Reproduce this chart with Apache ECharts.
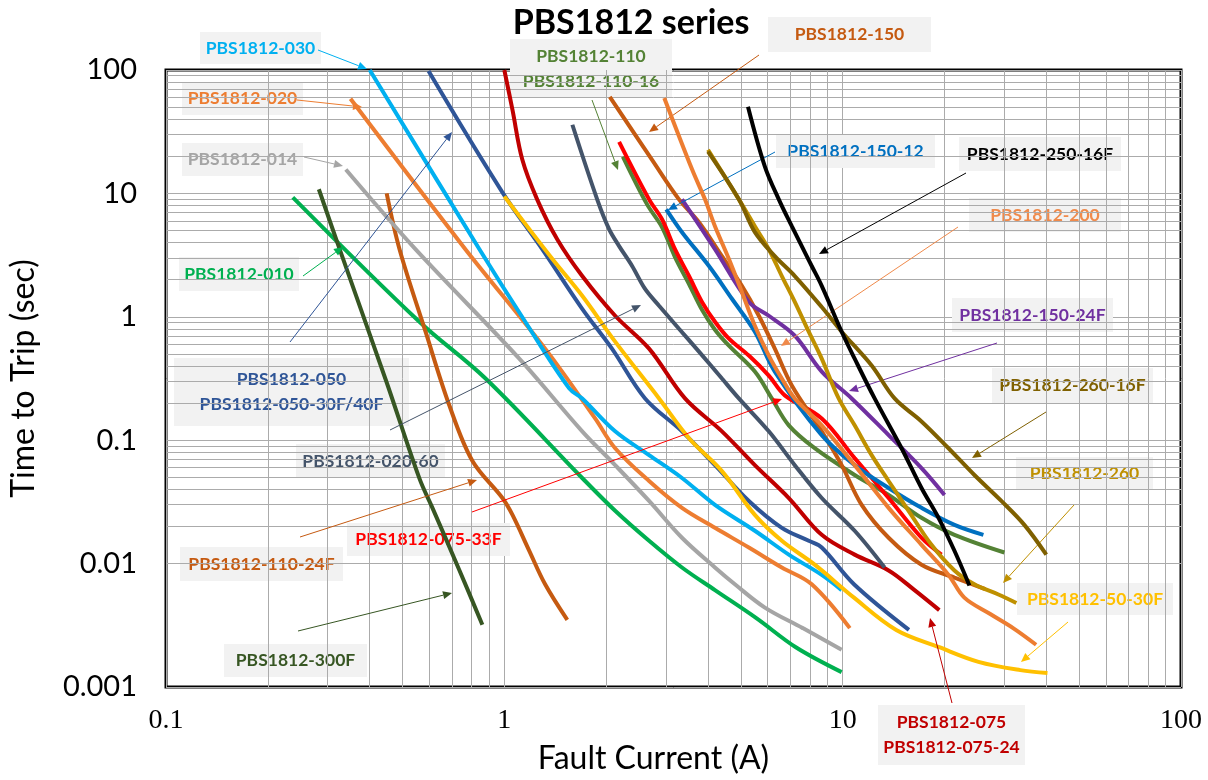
<!DOCTYPE html>
<html>
<head>
<meta charset="utf-8">
<script src="https://cdn.jsdelivr.net/npm/echarts@6/dist/echarts.min.js"></script>
<style>
html, body { margin: 0; padding: 0; background: #fff; }
#chart { width: 1208px; height: 780px; }
</style>
</head>
<body>
<div id="chart"></div>
<script>
// trip curves: [fault current A, time s]
var d010   = [[0.237,9.3],[0.561,0.912],[0.88,0.316],[1.699,0.0494],[2.126,0.0268],[2.678,0.0153],[3.35,0.0093],[4.193,0.0061],[5.57,0.0036],[7.27,0.0021],[9.93,0.00132]];
var d300F  = [[0.283,10.8],[0.326,3.53],[0.448,0.299],[0.561,0.049],[0.613,0.0283],[0.737,0.0088],[0.861,0.0032]];
var d110_24F = [[0.449,10],[0.49,3.53],[0.585,0.757],[0.688,0.191],[0.805,0.0678],[0.987,0.034],[1.057,0.0248],[1.185,0.0127],[1.32,0.0068],[1.535,0.0035]];
var d014   = [[0.34,15.6],[0.546,3.53],[1.107,0.458],[1.699,0.118],[2.126,0.0628],[2.678,0.0322],[3.35,0.0162],[4.193,0.0093],[4.802,0.0068],[5.89,0.0044],[7.62,0.003],[9.93,0.002]];
var d020   = [[0.351,58.4],[0.767,3.53],[1.32,0.552],[1.855,0.15],[2.126,0.0861],[2.678,0.0467],[3.35,0.0283],[4.193,0.0195],[5.281,0.0135],[6.609,0.0093],[8.101,0.0068],[10.5,0.003]];
var d030   = [[0.4,100],[0.844,3.53],[1.153,0.912],[1.555,0.263],[1.699,0.218],[2.126,0.118],[2.678,0.0757],[3.35,0.0494],[4.193,0.0299],[5.501,0.01845],[6.931,0.01182],[8.672,0.0081],[9.93,0.0061]];
var d050   = [[0.597,98],[0.987,10.2],[1.294,3.53],[1.699,1.16],[2.08,0.552],[2.606,0.218],[3.35,0.118],[4.193,0.0628],[5.281,0.0322],[6.609,0.0195],[7.938,0.0153],[8.672,0.0135],[10.8,0.0068],[15.7,0.0029]];
var d075   = [[1.0,100],[1.057,47.5],[1.13,18.8],[1.25,8.95],[1.433,4.25],[1.699,2.14],[2.126,1.02],[2.678,0.552],[3.42,0.218],[4.397,0.118],[5.501,0.0628],[6.931,0.034],[8.672,0.0171],[10.85,0.01182],[13.67,0.0088],[16.31,0.0061],[19.3,0.0042]];
var d50_30F = [[1.0,9.46],[1.387,2.94],[1.699,1.48],[2.126,0.629],[2.866,0.218],[3.514,0.1038],[4.397,0.0562],[5.501,0.0248],[6.609,0.0153],[8.268,0.0098],[10.8,0.0053],[14.4,0.0029],[19.3,0.0021],[25.2,0.0016],[33.5,0.00137],[40.3,0.0013]];
var d020_60 = [[1.589,36],[1.881,8.95],[2.04,5.13],[2.184,3.74],[2.386,2.58],[2.606,1.68],[2.866,1.23],[3.282,0.8],[3.761,0.522],[4.397,0.316],[4.934,0.218],[6.049,0.118],[7.219,0.0628],[8.672,0.034],[10.85,0.01845],[13.3,0.0093]];
var d110   = [[2.24,19.9],[2.642,8.15],[2.925,5.32],[3.194,3.05],[3.514,1.845],[3.839,1.139],[4.193,0.786],[4.611,0.583],[5.501,0.36],[6.174,0.218],[6.931,0.132],[8.268,0.0861],[10.85,0.0522],[13.67,0.036],[17.1,0.0235],[21.4,0.0171],[30.06,0.0123]];
var d075_33F = [[2.184,26.2],[2.678,8.95],[2.925,6.17],[3.194,3.53],[3.514,2.14],[3.839,1.32],[4.193,0.912],[4.611,0.665],[5.281,0.485],[6.049,0.334],[6.745,0.231],[8.672,0.15],[10.85,0.0716],[13.67,0.034],[17.1,0.0162],[19.59,0.01182]];
var d150   = [[2.05,60.5],[2.73,18.8],[3.282,8.95],[3.761,5.84],[4.397,3.1],[5.036,1.78],[5.652,1.02],[6.301,0.552],[7.074,0.278],[8.672,0.118],[9.933,0.0628],[11.38,0.0299],[13.67,0.0162],[17.1,0.0098],[21.4,0.0077],[26.4,0.0062]];
var d150_12 = [[3.01,7.43],[3.35,4.85],[4.025,2.58],[4.706,1.4],[5.501,0.757],[6.301,0.36],[8.672,0.11],[10.85,0.0628],[13.67,0.041],[17.1,0.0283],[21.4,0.0206],[26.06,0.0171]];
var d150_24F = [[3.35,8.95],[4.193,3.53],[5.281,1.32],[6.049,1.02],[7.219,0.703],[8.672,0.36],[10.63,0.218],[13.67,0.11],[17.1,0.0594],[20.0,0.036]];
var d200   = [[2.97,59.4],[3.59,15.6],[3.918,8.95],[4.193,5.42],[4.611,2.94],[5.036,1.59],[5.501,0.846],[6.049,0.485],[6.609,0.316],[7.219,0.218],[8.672,0.132],[10.85,0.0628],[13.67,0.0283],[17.1,0.0142],[20.55,0.0081],[22.89,0.0053],[27.3,0.0039],[31.9,0.003],[37.3,0.0022]];
var d260   = [[4.0,22.6],[4.934,8.95],[5.501,5.42],[6.049,3.53],[6.609,2.14],[7.219,1.32],[7.938,0.757],[8.672,0.458],[9.732,0.218],[10.85,0.132],[12.18,0.0757],[13.67,0.0467],[15.66,0.0268],[18.3,0.0142],[21.4,0.0088],[24.51,0.0068],[28.86,0.00562],[32.61,0.0048]];
var d260_16F = [[4.0,21.8],[4.934,8.95],[5.501,4.85],[6.301,3.1],[7.219,2.14],[8.672,1.2],[9.933,0.757],[12.18,0.403],[14.24,0.218],[17.1,0.142],[20.55,0.0861],[24.51,0.0522],[29.44,0.0322],[34.43,0.0206],[39.98,0.01182]];
var d250_16F = [[5.25,50.4],[5.89,16.5],[6.475,8.95],[7.074,5.42],[7.57,3.74],[8.101,2.58],[8.672,1.78],[9.933,0.757],[10.85,0.458],[12.43,0.218],[14.93,0.0861],[17.1,0.041],[19.2,0.0235],[21.4,0.0127],[23.69,0.00665]];

var NAMES  = ["010", "300F", "110-24F", "014", "020", "030", "050", "075", "50-30F", "020-60",
              "110", "075-33F", "150", "150-12", "150-24F", "200", "260", "260-16F", "250-16F"];
var CURVES = [d010, d300F, d110_24F, d014, d020, d030, d050, d075, d50_30F, d020_60,
              d110, d075_33F, d150, d150_12, d150_24F, d200, d260, d260_16F, d250_16F];
var COLORS = ["#00B050", "#375623", "#C55A11", "#A5A5A5", "#ED7D31", "#00B0F0", "#2F5597", "#C00000", "#FFC000", "#44546A",
              "#548235", "#FF0000", "#C55A11", "#0070C0", "#7030A0", "#ED7D31", "#BF9000", "#7F6000", "#000000"];

var MINOR_X = [0.2,0.3,0.4,0.5,0.6,0.7,0.8,0.9, 2,3,4,5,6,7,8,9, 20,30,40,50,60,70,80,90];
var MINOR_Y = [0.002,0.003,0.004,0.005,0.006,0.007,0.008,0.009, 0.02,0.03,0.04,0.05,0.06,0.07,0.08,0.09,
               0.2,0.3,0.4,0.5,0.6,0.7,0.8,0.9, 2,3,4,5,6,7,8,9, 20,30,40,50,60,70,80,90];

// callout boxes: text lines, colour, box [x,y,w,h], arrow [x1,y1,x2,y2]
var NOTES = [
  { t: ["PBS1812-030"], c: "#00B0F0", box: [200, 32, 121, 32], arrow: [318, 50, 367, 69] },
  { t: ["PBS1812-020"], c: "#ED7D31", box: [182, 82, 121, 33], arrow: [297, 100, 362, 107] },
  { t: ["PBS1812-014"], c: "#A5A5A5", box: [182, 143, 121, 33], arrow: [304, 157, 343, 166] },
  { t: ["PBS1812-010"], c: "#00B050", box: [179, 257, 120, 34], arrow: [303, 276, 343, 247] },
  { t: ["PBS1812-050", "PBS1812-050-30F/40F"], c: "#2F5597", box: [174, 358, 235, 68], arrow: [290, 342, 452, 132] },
  { t: ["PBS1812-020-60"], c: "#44546A", box: [296, 444, 149, 34], arrow: [390, 430, 641, 305] },
  { t: ["PBS1812-110-24F"], c: "#C55A11", box: [180, 547, 163, 34], arrow: [300, 537, 477, 480] },
  { t: ["PBS1812-075-33F"], c: "#FF0000", box: [347, 523, 163, 33], arrow: [472, 512, 782, 399] },
  { t: ["PBS1812-300F"], c: "#375623", box: [224, 644, 143, 33], arrow: [298, 631, 452, 593] },
  { t: ["PBS1812-110", "PBS1812-110-16"], c: "#548235", box: [510, 39, 162, 59], arrow: [592, 100, 618, 170] },
  { t: ["PBS1812-150"], c: "#C55A11", box: [768, 17, 163, 35], arrow: [759, 55, 649, 132] },
  { t: ["PBS1812-150-12"], c: "#0070C0", box: [776, 135, 159, 33], arrow: [775, 152, 668, 210] },
  { t: ["PBS1812-250-16F"], c: "#000000", box: [959, 137, 162, 34], arrow: [966, 173, 819, 254] },
  { t: ["PBS1812-200"], c: "#F08A4B", box: [969, 198, 152, 34], arrow: [958, 227, 781, 346] },
  { t: ["PBS1812-150-24F"], c: "#7030A0", box: [952, 298, 161, 34], arrow: [997, 343, 849, 391] },
  { t: ["PBS1812-260-16F"], c: "#7F6000", box: [992, 368, 161, 35], arrow: [1046, 412, 972, 458] },
  { t: ["PBS1812-260"], c: "#BF9000", box: [1016, 457, 137, 33], arrow: [1074, 505, 1003, 583] },
  { t: ["PBS1812-50-30F"], c: "#FFC000", box: [1017, 583, 156, 32], arrow: [1068, 622, 1021, 662] },
  { t: ["PBS1812-075", "PBS1812-075-24"], c: "#C00000", box: [878, 705, 147, 60], arrow: [952, 703, 930, 618] }
];

var LABEL_FONT = "Lato, 'Open Sans', sans-serif";

function fmtTick(v) { return String(+Number(v).toPrecision(3)); }

function arrowShapes(a, color) {
  var dx = a[2] - a[0], dy = a[3] - a[1];
  var len = Math.sqrt(dx * dx + dy * dy), ux = dx / len, uy = dy / len;
  var hl = 9, hw = 4;
  var bx = a[2] - ux * hl, by = a[3] - uy * hl;
  return [
    { type: "line", z: 20, silent: true, shape: { x1: a[0], y1: a[1], x2: bx, y2: by },
      style: { stroke: color, lineWidth: 1 } },
    { type: "polygon", z: 20, silent: true,
      shape: { points: [[a[2], a[3]], [bx - uy * hw, by + ux * hw], [bx + uy * hw, by - ux * hw]] },
      style: { fill: color } }
  ];
}

function buildGraphic() {
  var g = [];
  NOTES.forEach(function(n) {
    var b = n.box;
    g.push({ type: "rect", z: 1, silent: true, shape: { x: b[0], y: b[1], width: b[2], height: b[3] },
             style: { fill: "#F2F2F2" } });
    g.push({ type: "text", z: 1, silent: true, x: b[0] + b[2] / 2, y: b[1] + b[3] / 2,
             style: { text: n.t.join("\n"), fill: n.c, font: "bold 17.5px " + LABEL_FONT,
                      align: "center", verticalAlign: "middle", lineHeight: 25 } });
    g = g.concat(arrowShapes(n.arrow, n.c));
  });
  return g;
}

var chart = echarts.init(document.getElementById("chart"));

var series = CURVES.map(function(d, i) {
  return {
    name: "PBS1812-" + NAMES[i], type: "line", data: d, smooth: 0.35,
    showSymbol: false, symbol: "none", z: 5 + i, silent: true,
    lineStyle: { color: COLORS[i], width: 4 }, itemStyle: { color: COLORS[i] }
  };
});

// minor log gridlines
series.unshift({
  type: "line", data: [], z: 0, silent: true,
  markLine: {
    silent: true, symbol: "none", animation: false, label: { show: false },
    lineStyle: { color: "#ABABAB", type: "solid", width: 1 },
    data: MINOR_X.map(function(v) { return { xAxis: v }; })
      .concat(MINOR_Y.map(function(v) { return { yAxis: v }; }))
  }
});

chart.setOption({
  animation: false,
  backgroundColor: "#fff",
  title: {
    text: "PBS1812 series", left: 626, top: 1, textAlign: "center",
    textStyle: { fontFamily: LABEL_FONT, fontWeight: "bold", fontSize: 34, color: "#000" }
  },
  grid: { left: 163, right: 27, top: 70, bottom: 90, show: true, borderColor: "#000", borderWidth: 3,
          backgroundColor: "transparent" },
  xAxis: {
    type: "log", logBase: 10, min: 0.1, max: 100,
    name: "Fault Current (A)", nameLocation: "middle", nameGap: 56,
    nameTextStyle: { fontFamily: LABEL_FONT, fontSize: 32, color: "#000", padding: [0, 40, 0, 0] },
    axisLine: { show: false }, axisTick: { show: false },
    axisLabel: { fontFamily: "'Liberation Serif', serif", fontSize: 28, color: "#000", margin: 20, formatter: fmtTick },
    splitLine: { show: true, lineStyle: { color: "#ABABAB", width: 1 } }
  },
  yAxis: {
    type: "log", logBase: 10, min: 0.001, max: 100,
    name: "Time to Trip (sec)", nameLocation: "middle", nameGap: 126, nameRotate: 90,
    nameTextStyle: { fontFamily: LABEL_FONT, fontSize: 32, color: "#000" },
    axisLine: { show: false }, axisTick: { show: false },
    axisLabel: { fontFamily: LABEL_FONT, fontSize: 29, color: "#000", margin: 29, formatter: fmtTick },
    splitLine: { show: true, lineStyle: { color: "#ABABAB", width: 1 } }
  },
  graphic: buildGraphic(),
  series: series
});
</script>
</body>
</html>
